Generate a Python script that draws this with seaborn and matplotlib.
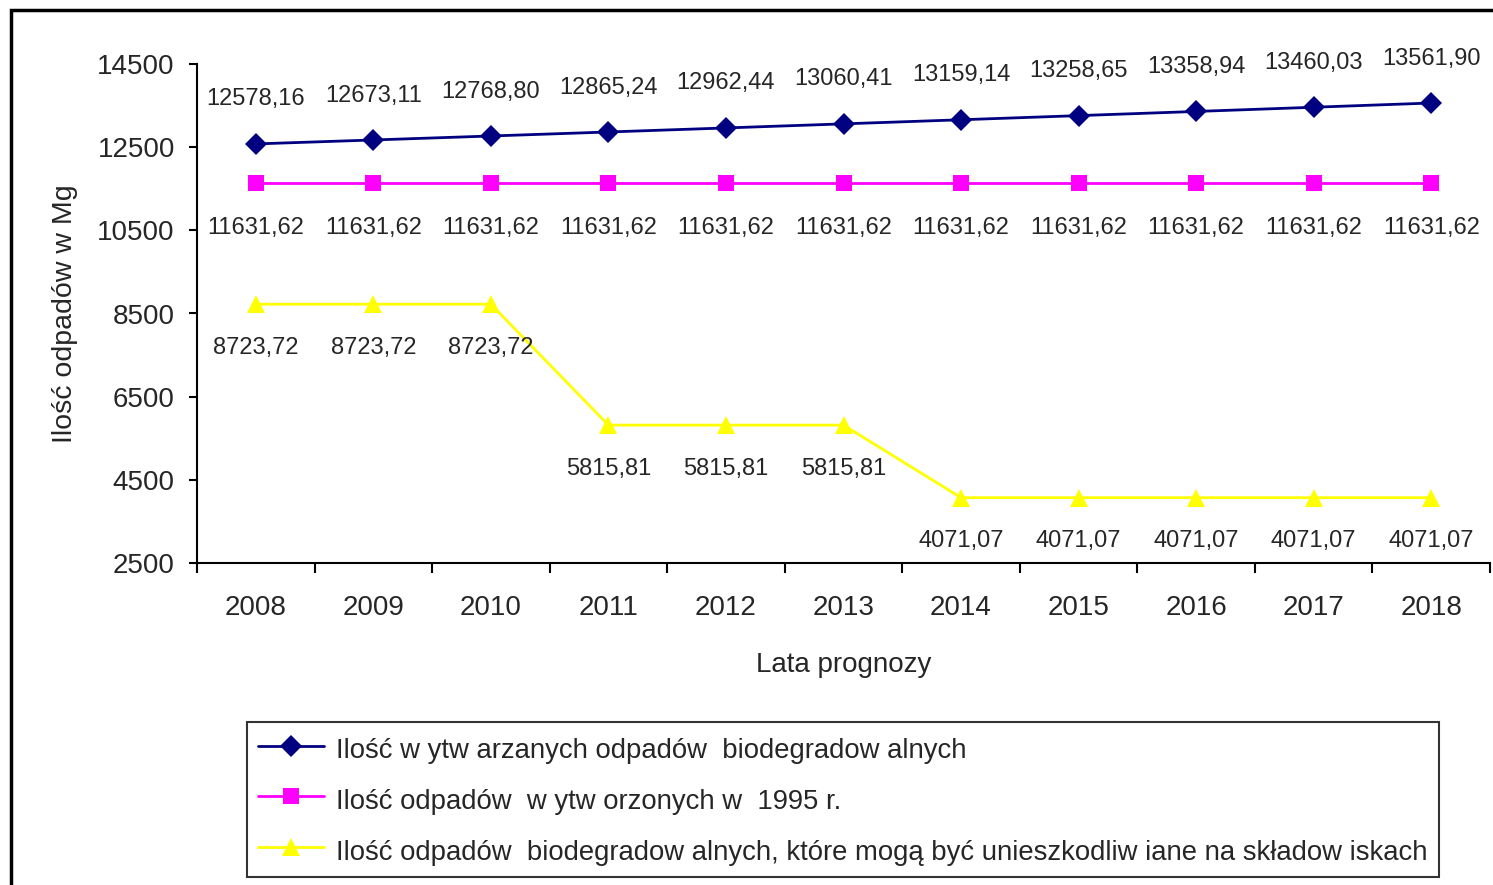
import numpy as np
import pandas as pd
import matplotlib
matplotlib.use("Agg")
import matplotlib.pyplot as plt
from matplotlib.patches import Rectangle
from matplotlib.lines import Line2D
import seaborn as sns

years = ["2008", "2009", "2010", "2011", "2012", "2013", "2014", "2015", "2016", "2017", "2018"]
s1 = [12578.16, 12673.11, 12768.80, 12865.24, 12962.44, 13060.41, 13159.14, 13258.65, 13358.94, 13460.03, 13561.90]
s2 = [11631.62] * 11
s3 = [8723.72, 8723.72, 8723.72, 5815.81, 5815.81, 5815.81, 4071.07, 4071.07, 4071.07, 4071.07, 4071.07]
names = [
    "Ilość w ytw arzanych odpadów  biodegradow alnych",
    "Ilość odpadów  w ytw orzonych w  1995 r.",
    "Ilość odpadów  biodegradow alnych, które mogą być unieszkodliw iane na składow iskach",
]
colors = ["#000080", "#FF00FF", "#FFFF00"]
markers = ["D", "s", "^"]
yticks = [2500, 4500, 6500, 8500, 10500, 12500, 14500]
xlabel = "Lata prognozy"
ylabel = "Ilość odpadów w Mg"

sns.set_style("white")
plt.rcParams["font.family"] = ["Liberation Sans", "DejaVu Sans"]

rows = []
for name, vals in zip(names, [s1, s2, s3]):
    for i, v in enumerate(vals):
        rows.append({"x": i, "y": v, "series": name})
df = pd.DataFrame(rows)

fig = plt.figure(figsize=(14.93, 8.85), dpi=100)
ax = fig.add_axes([197 / 1493, 1 - 563 / 885, (1490 - 197) / 1493, (563 - 64) / 885])

msizes = [11, 11, 13]
sns.lineplot(data=df, x="x", y="y", hue="series", style="series",
             palette=dict(zip(names, colors)), markers=dict(zip(names, markers)),
             dashes=False, markersize=11, linewidth=2, markeredgewidth=0,
             legend=False, ax=ax)
for line, ms in zip(ax.lines, msizes):
    line.set_markersize(ms)

ax.set_xlim(-0.5, 10.5)
ax.set_ylim(2500, 14500)
ax.set_yticks(yticks)
ax.set_yticklabels([str(t) for t in yticks], fontsize=20)
ax.set_xticks(range(len(years)))
ax.set_xticklabels(years, fontsize=20)
ax.set_xticks(np.arange(-0.5, 11, 1), minor=True)
ax.tick_params(axis="x", which="major", length=0, pad=23)
ax.tick_params(axis="x", which="minor", length=7, width=1.5, direction="out", color="black")
ax.tick_params(axis="y", which="major", length=6, width=1.5, direction="out", color="black", pad=10)
ax.xaxis.set_ticks_position("bottom")
ax.yaxis.set_ticks_position("left")

for side in ["top", "right"]:
    ax.spines[side].set_visible(False)
for side in ["left", "bottom"]:
    ax.spines[side].set_color("black")
    ax.spines[side].set_linewidth(1.5)

ax.set_xlabel(xlabel, fontsize=20, labelpad=22)
ax.set_ylabel(ylabel, fontsize=20.5, labelpad=14)

def fmt(v):
    return f"{v:.2f}".replace(".", ",")

for i, v in enumerate(s1):
    ax.annotate(fmt(v), (i, v), xytext=(0, 32), textcoords="offset points",
                ha="center", va="center", fontsize=17)
for i, v in enumerate(s2):
    ax.annotate(fmt(v), (i, v), xytext=(0, -32), textcoords="offset points",
                ha="center", va="center", fontsize=17)
for i, v in enumerate(s3):
    ax.annotate(fmt(v), (i, v), xytext=(0, -31.5), textcoords="offset points",
                ha="center", va="center", fontsize=17)

handles = [Line2D([], [], color=c, marker=m, markersize=ms, linewidth=2, markeredgewidth=0)
           for c, m, ms in zip(colors, markers, msizes)]
leg = fig.legend(handles, names, loc="upper left",
                 bbox_to_anchor=(247 / 1493, 1 - 722 / 885),
                 fontsize=19.8, frameon=True, fancybox=False, edgecolor="black",
                 handlelength=2.4, handleheight=1.4, handletextpad=0.45, labelspacing=0.69,
                 borderpad=0.4, borderaxespad=0)
leg.get_frame().set_linewidth(1.5)

fig.patches.append(Rectangle((11 / 1493, -0.2), 2, 1.2 - 10 / 885, transform=fig.transFigure,
                             fill=False, edgecolor="black", linewidth=2.5))

fig.savefig("out.png", dpi=100)
